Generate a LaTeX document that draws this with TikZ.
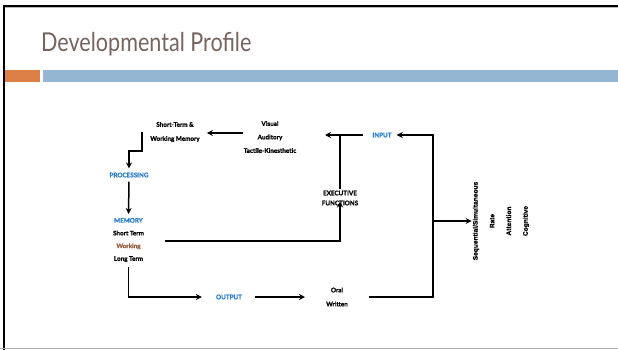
\documentclass[tikz,border=0pt]{standalone}
\usepackage{fontspec}
\setmainfont{Lato}[BoldFeatures={FakeBold=1.2}]
\newfontfamily\rotfont{Liberation Sans}[BoldFeatures={FakeBold=0.6}]
\usetikzlibrary{arrows.meta}
\definecolor{titlegray}{RGB}{118,100,94}
\definecolor{accentorange}{RGB}{221,128,71}
\definecolor{accentblue}{RGB}{148,182,210}
\definecolor{stageblue}{RGB}{40,125,200}
\definecolor{workbrown}{RGB}{150,90,60}
\begin{document}
\begin{tikzpicture}[x=1pt,y=-1pt,
  lbl/.style={font=\bfseries\fontsize{6.3}{14}\selectfont, align=center, inner sep=1pt},
  stage/.style={lbl, text=stageblue},
  ln/.style={line width=1.5pt},
  arr/.style={ln, -{Stealth[length=6pt,width=6pt,inset=2pt]}}]
\useasboundingbox (0,0) rectangle (618,350);
% slide frame
\fill[gray!55] (5,7) rectangle (618,8);
\draw[line width=2pt] (4,350) -- (4,6) -- (618,6);
\draw[gray!60, line width=1pt] (0,348.5) -- (618,348.5);
% title and accent bars
\node[anchor=base west, inner sep=0pt, text=titlegray, font=\fontsize{26}{30}\selectfont]
  (title) at (41,52) {\scalebox{0.83}[1]{Developmental Profile}};
\fill[accentorange] (5,70) rectangle (40,82);
\fill[accentblue] (43,70) rectangle (618,82);
% labels
\node[lbl] (stm) at (175,132) {Short-Term \&\\Working Memory};
\node[lbl, font=\bfseries\fontsize{6.3}{13.5}\selectfont] (vis) at (270,137) {Visual\\Auditory\\Tactile-Kinesthetic};
\node[stage] (proc) at (129,175) {PROCESSING};
\node[lbl, font=\bfseries\fontsize{6.3}{12.7}\selectfont] (mem) at (128.5,240)
  {\textcolor{stageblue}{MEMORY}\\Short Term\\\textcolor{workbrown}{Working}\\Long Term};
\node[stage] (out) at (229,297) {OUTPUT};
\node[lbl] (oral) at (337,297) {Oral\\Written};
\node[stage] (input) at (382,135) {INPUT};
\node[lbl, font=\bfseries\fontsize{6.3}{10}\selectfont] (exec) at (340,198) {EXECUTIVE\\FUNCTIONS};
\node[lbl, rotate=90, font=\rotfont\bfseries\fontsize{6.6}{16.7}\selectfont] (seq) at (501,221)
  {Sequential/Simultaneous\\Rate\\Attention\\Cognitive};
% junctions and free ends
\coordinate (rj) at (433,221);
\coordinate (intip) at (325,135);
% connectors
\draw[arr, shorten >=6pt] ([yshift=4pt]vis.west) -- ([yshift=4pt]vis.west -| stm.east);
\draw[arr, shorten >=3pt] ([xshift=-7pt]stm.west) -- ++(0,19) -| (proc.north);
\draw[arr, shorten <=3pt, shorten >=3pt] (proc.south) -- (mem.north);
\draw[arr, shorten <=4pt, shorten >=13pt] (mem.south) |- (out.west);
\draw[arr, shorten <=12pt, shorten >=20pt] (out.east) -- (oral.west);
\draw[arr, shorten <=20pt, shorten >=4pt] (oral.east) -| (rj) |- (input.east);
\draw[arr] (rj) -- (seq.north);
\draw[arr, shorten <=8pt] (input.west) -- (intip);
\draw[ln] (exec.north) -- (exec.north |- input.west);
\draw[arr, shorten <=20pt, shorten >=-5pt] ([yshift=-1pt]mem.east) -| (exec.south);
\end{tikzpicture}
\end{document}
